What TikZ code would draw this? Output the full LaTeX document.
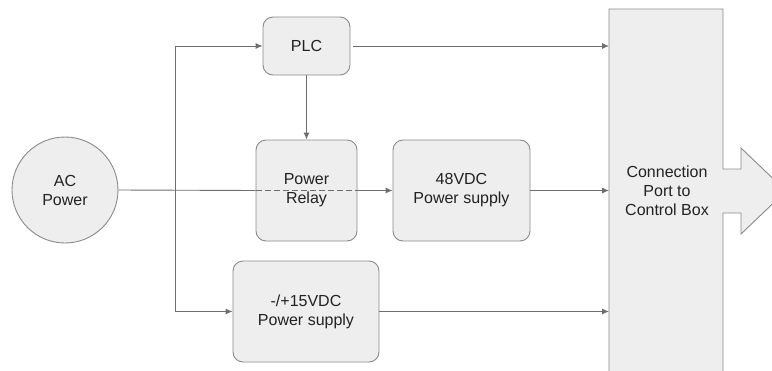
\documentclass[tikz,border=0pt]{standalone}
\usepackage{fontspec}
\setmainfont{Liberation Sans}
\usetikzlibrary{arrows.meta}
\definecolor{boxfill}{HTML}{EEEEEE}
\definecolor{boxline}{HTML}{8A8A8A}
\definecolor{wire}{HTML}{6E6E6E}
\definecolor{txt}{HTML}{222222}
\tikzset{
  blk/.style={draw=boxline, fill=boxfill, line width=0.9pt, rounded corners=10pt,
    text=txt, align=center, font=\fontsize{16}{19}\selectfont, inner sep=0pt},
  wireline/.style={draw=wire, line width=0.9pt},
  arr/.style={wireline, -{Latex[length=7pt,width=6pt]}},
  lbl/.style={text=txt, align=center, font=\fontsize{16}{19}\selectfont}
}
\begin{document}
\begin{tikzpicture}[x=1pt,y=-1pt]
\useasboundingbox (0,0) rectangle (772,370);
\clip (0,0) rectangle (772,370);
% connection port shape
\draw[draw=boxline, fill=boxfill, line width=0.9pt]
  (609,9) -- (723,9) -- (723,169) -- (741,169) -- (741,148) -- (786,191)
  -- (741,234) -- (741,213) -- (723,213) -- (723,380) -- (609,380) -- cycle;
\node[lbl] (port) at (667,191) {Connection\\Port to\\Control Box};
\coordinate (portL) at (609,190);
% blocks
\node[draw=boxline, fill=boxfill, line width=0.9pt, circle, minimum size=106pt,
  text=txt, align=center, font=\fontsize{16}{19}\selectfont, inner sep=0pt] (ac) at (65,190) {AC\\Power};
\node[blk, minimum width=87pt, minimum height=58pt] (plc) at (306.5,46) {PLC};
\node[blk, minimum width=101pt, minimum height=101pt] (relay) at (306.5,190.5) {Power\\Relay};
\node[blk, minimum width=137pt, minimum height=101pt] (v48) at (461.5,190.5) {48VDC\\Power supply};
\node[blk, minimum width=146pt, minimum height=101pt] (v15) at (306,311.5) {-/+15VDC\\Power supply};
\coordinate (j) at (175,190);
% connectors
\draw[wireline] (ac.east) -- (relay.west);
\draw[wireline, dashed, dash pattern=on 6pt off 3pt] (relay.west) -- (relay.east);
\draw[arr] (relay.east) -- (v48.west);
\draw[arr] (j) |- (plc.west);
\draw[arr] (j) |- (v15.west);
\draw[arr] (plc.south) -- (relay.north);
\draw[arr] ([xshift=3pt]plc.east) -- (plc.east -| portL);
\draw[arr] (v48.east) -- (v48.east -| portL);
\draw[arr] (v15.east) -- (v15.east -| portL);
\end{tikzpicture}
\end{document}
